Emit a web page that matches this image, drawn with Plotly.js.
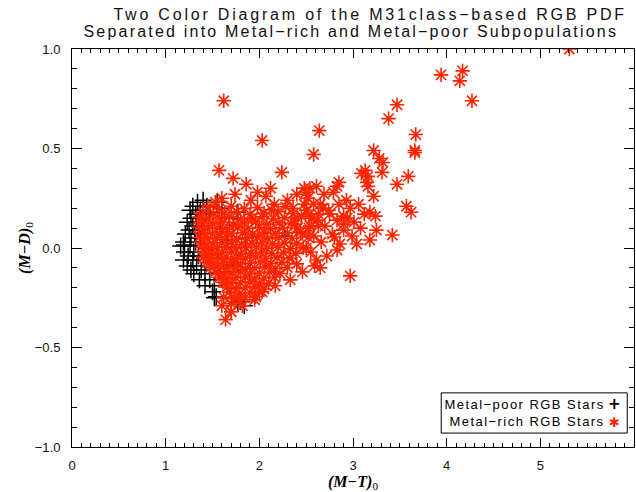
<!DOCTYPE html>
<html>
<head>
<meta charset="utf-8">
<script src="https://cdn.plot.ly/plotly-3.0.1.min.js"></script>
<style>
html,body{margin:0;padding:0;background:#fff;}
.gtitle{letter-spacing:2.8px;}
g.annotation[data-index="0"] text{letter-spacing:2.2px;}
g.annotation[data-index="1"] text, g.annotation[data-index="2"] text{letter-spacing:1.45px;}
</style>
</head>
<body>
<div id="chart" style="width:636px;height:492px;"></div>
<script>
// Metal-poor RGB stars (black +)
var poorX = [1.40,1.34,1.29,1.44,1.26,1.37,1.32,1.43,1.27,1.38,1.23,1.33,1.29,1.40,1.25,1.35,1.21,1.31,
  1.27,1.37,1.19,1.32,1.20,1.16,1.26,1.20,1.30,1.24,1.35,1.19,1.29,1.23,1.33,1.27,1.38,1.30,1.42,
  1.36,1.47,1.42,1.52,1.50,1.54,1.52,
  1.77,1.84,1.80,2.27,1.68,1.77,1.72,1.77,1.66,1.65,1.60,1.55,1.62,1.58,1.56,1.90,1.85,1.47,1.49];
var poorY = [0.24,0.23,0.21,0.21,0.19,0.19,0.17,0.17,0.15,0.15,0.13,0.13,0.11,0.11,0.09,0.09,0.07,0.07,
  0.05,0.05,0.03,0.03,0.015,0.01,0.01,-0.02,-0.02,-0.04,-0.04,-0.06,-0.06,-0.09,-0.09,-0.11,-0.11,-0.13,-0.13,
  -0.16,-0.16,-0.19,-0.19,-0.22,-0.245,-0.25,
  -0.28,-0.29,-0.27,0.06,0.15,0.18,-0.085,-0.075,0.04,0.005,0.20,0.23,-0.12,0.10,-0.05,-0.10,0.05,0.18,-0.03];

// Metal-rich RGB stars (red asterisk)
var richX = [
  1.45,1.57,1.70,1.84,1.98,2.13,2.28,
  1.40,1.51,1.63,1.76,1.90,2.05,2.20,2.36,
  1.36,1.46,1.57,1.68,1.80,1.92,2.03,2.15,2.27,2.41,
  1.39,1.50,1.61,1.72,1.84,1.96,2.08,2.21,2.34,
  1.35,1.45,1.55,1.66,1.77,1.88,2.00,2.12,2.25,2.40,
  1.40,1.50,1.60,1.71,1.82,1.93,2.05,2.17,2.30,2.46,
  1.36,1.45,1.55,1.65,1.76,1.87,1.98,2.09,2.21,2.35,2.52,
  1.41,1.50,1.60,1.70,1.81,1.92,2.03,2.14,2.27,2.40,
  1.38,1.46,1.55,1.65,1.75,1.86,1.97,2.08,2.20,2.33,2.47,
  1.42,1.51,1.60,1.70,1.80,1.91,2.02,2.13,2.26,2.39,
  1.40,1.47,1.56,1.65,1.75,1.85,1.96,2.07,2.19,2.32,
  1.44,1.52,1.61,1.70,1.80,1.90,2.01,2.12,2.24,
  1.48,1.57,1.66,1.75,1.85,1.95,2.06,2.17,2.30,
  1.53,1.62,1.71,1.80,1.90,2.00,2.11,2.22,
  1.57,1.66,1.75,1.85,1.95,2.05,2.16,
  1.61,1.70,1.80,1.90,2.00,2.10,
  1.65,1.75,1.85,1.95,2.05,
  1.68,1.79,1.90,2.00,
  1.62,1.73,1.85,1.96,
  1.70,1.82, 1.70, 1.64,
  1.57,1.72,1.86,2.03,2.24,1.62,1.60,1.74,1.91,2.07,2.16,2.30,2.40,2.48,2.52,2.36,2.12,1.98,1.53,
  2.45,2.53,2.50,2.58,2.62,2.66,2.70,2.74,2.78,2.83,2.86,2.90,2.94,2.99,3.04,3.08,3.12,
  2.55,2.61,2.72,2.80,2.83,2.65,2.97,3.18,3.42,2.46,2.59,2.33,2.17,2.03,1.95,1.79,1.60,1.70,
  2.40,2.50,2.44,2.38,2.56,2.68,
  5.31,3.94,4.17,4.14,4.27,3.47,3.38,2.64,3.67,2.58,3.22,3.66,3.66,3.28,3.32,3.31,3.13,3.09,3.16,3.15,3.16,
  3.22,3.47,3.59,3.57,3.62,3.18,3.24,2.85,2.83,2.79,2.69,2.61,2.54,2.50,2.48,2.58,2.65,2.85,2.93,2.97,3.06,
  2.53,2.63,2.75,2.90,3.01,3.25,2.90,2.54,2.63
];
var richY = [
  0.205,0.196,0.21,0.198,0.203,0.192,0.207,
  0.18,0.171,0.177,0.183,0.169,0.176,0.182,0.172,
  0.155,0.146,0.152,0.158,0.144,0.151,0.157,0.147,0.153,0.149,
  0.128,0.121,0.13,0.119,0.126,0.132,0.12,0.127,0.123,
  0.104,0.097,0.101,0.095,0.106,0.099,0.103,0.096,0.102,0.098,
  0.078,0.071,0.08,0.073,0.077,0.07,0.079,0.074,0.076,0.072,
  0.053,0.046,0.051,0.057,0.044,0.05,0.055,0.047,0.052,0.048,0.054,
  0.028,0.021,0.026,0.03,0.019,0.024,0.029,0.022,0.027,0.023,
  0.004,-0.003,0.002,0.006,-0.005,0.001,0.005,-0.002,0.003,-0.004,0.002,
  -0.022,-0.029,-0.024,-0.02,-0.031,-0.026,-0.021,-0.028,-0.023,-0.027,
  -0.047,-0.054,-0.049,-0.045,-0.056,-0.051,-0.046,-0.053,-0.048,-0.052,
  -0.072,-0.079,-0.074,-0.07,-0.08,-0.076,-0.071,-0.078,-0.073,
  -0.097,-0.104,-0.099,-0.095,-0.106,-0.101,-0.096,-0.103,-0.098,
  -0.122,-0.129,-0.124,-0.12,-0.131,-0.126,-0.121,-0.128,
  -0.147,-0.154,-0.149,-0.145,-0.156,-0.151,-0.146,
  -0.172,-0.179,-0.174,-0.17,-0.181,-0.176,
  -0.197,-0.204,-0.199,-0.195,-0.206,
  -0.222,-0.229,-0.224,-0.22,
  -0.247,-0.254,-0.249,-0.245,
  -0.28,-0.29, -0.32, -0.36,
  0.39,0.35,0.32,0.54,0.38,0.74,0.25,0.27,0.24,0.26,0.22,0.24,0.27,0.30,0.25,0.20,0.30,0.28,0.23,
  0.16,0.10,0.19,0.06,0.14,0.03,0.11,0.19,0.07,0.14,0.02,0.09,0.15,0.06,0.02,0.10,0.17,
  -0.02,-0.06,-0.04,0.055,-0.01,-0.10,-0.14,0.04,0.065,-0.12,-0.09,-0.16,-0.19,-0.22,-0.26,-0.26,-0.29,-0.32,
  -0.08,0.00,0.08,0.12,0.15,0.20,
  1.00,0.87,0.89,0.84,0.74,0.72,0.65,0.59,0.57,0.47,0.49,0.49,0.48,0.45,0.43,0.38,0.39,0.375,0.36,0.33,0.31,
  0.26,0.32,0.36,0.21,0.18,0.18,0.16,0.33,0.31,0.28,0.27,0.31,0.30,0.28,0.22,0.22,0.22,0.22,0.24,0.20,0.22,
  0.17,0.17,0.17,0.16,0.13,0.09,0.12,0.11,0.11
];

var RED = 'rgb(255,36,0)';
var traces = [
  {x: poorX, y: poorY, type: 'scatter', mode: 'markers', name: 'Metal-poor RGB Stars',
   marker: {symbol: 'cross-thin-open', size: 12, color: '#000', line: {color: '#000', width: 1.5}}},
  {x: richX, y: richY, type: 'scatter', mode: 'markers', name: 'Metal-rich RGB Stars',
   marker: {symbol: 'asterisk-open', size: 12, color: RED, line: {color: RED, width: 1.6}}}
];

var axisCommon = {
  showline: true, linecolor: '#000', linewidth: 1, mirror: 'allticks',
  ticks: 'inside', tickcolor: '#000', tickwidth: 1,
  showgrid: false, zeroline: false,
  tickfont: {family: 'Liberation Sans, Arial, sans-serif', size: 13, color: '#111'}
};

var layout = {
  width: 636, height: 492,
  margin: {l: 72, r: 2, t: 49, b: 45},
  paper_bgcolor: '#fff', plot_bgcolor: '#fff',
  showlegend: false,
  title: {
    text: 'Two Color Diagram of the M31class\u2212based RGB PDF',
    x: 0.582, xref: 'container', xanchor: 'center',
    y: 0.9715, yref: 'container', yanchor: 'middle',
    font: {family: 'Liberation Sans, Arial, sans-serif', size: 16, color: '#111'}
  },
  xaxis: Object.assign({}, axisCommon, {
    range: [0, 6], dtick: 1, tick0: 0, ticklen: 9,
    minor: {dtick: 0.1, ticklen: 4, ticks: 'inside', tickcolor: '#000', showgrid: false},
    ticklabelstandoff: 6,
    title: {text: '<b><i>(M\u2212T)</i></b><sub>0</sub>', standoff: 2,
      font: {family: 'Liberation Serif, Times New Roman, serif', size: 16, color: '#000'}}
  }),
  yaxis: Object.assign({}, axisCommon, {
    range: [-1, 1], dtick: 0.5, tick0: 0, ticklen: 10, tickformat: '.1f',
    minor: {dtick: 0.1, ticklen: 5, ticks: 'inside', tickcolor: '#000', showgrid: false},
    ticklabelstandoff: 8,
    title: {text: '<b><i>(M\u2212D)</i></b><sub>0</sub>', standoff: 0,
      font: {family: 'Liberation Serif, Times New Roman, serif', size: 16, color: '#000'}}
  }),
  shapes: [
    {type: 'rect', xref: 'paper', yref: 'paper', x0: 0.657, x1: 0.988, y0: 0.035, y1: 0.136,
     line: {color: '#000', width: 1}, fillcolor: 'rgba(0,0,0,0)'}
  ],
  annotations: [
    {xref: 'paper', yref: 'paper', x: 0.496, y: 1.043, xanchor: 'center', yanchor: 'middle', showarrow: false,
     text: 'Separated into Metal\u2212rich and Metal\u2212poor Subpopulations',
     font: {family: 'Liberation Sans, Arial, sans-serif', size: 16, color: '#111'}},
    {xref: 'paper', yref: 'paper', x: 0.806, y: 0.108, xanchor: 'center', yanchor: 'middle', showarrow: false,
     text: 'Metal\u2212poor RGB Stars', font: {family: 'Liberation Sans, Arial, sans-serif', size: 13, color: '#000'}},
    {xref: 'paper', yref: 'paper', x: 0.810, y: 0.065, xanchor: 'center', yanchor: 'middle', showarrow: false,
     text: 'Metal\u2212rich RGB Stars', font: {family: 'Liberation Sans, Arial, sans-serif', size: 13, color: '#000'}},
    {xref: 'paper', yref: 'paper', x: 0.966, y: 0.108, xanchor: 'center', yanchor: 'middle', showarrow: false,
     text: '<b>+</b>', font: {family: 'DejaVu Sans, sans-serif', size: 15, color: '#000'}},
    {xref: 'paper', yref: 'paper', x: 0.966, y: 0.062, xanchor: 'center', yanchor: 'middle', showarrow: false,
     text: '\u2731', font: {family: 'DejaVu Sans, sans-serif', size: 13, color: RED}}
  ]
};

Plotly.newPlot('chart', traces, layout, {displayModeBar: false, staticPlot: true});
</script>
</body>
</html>
